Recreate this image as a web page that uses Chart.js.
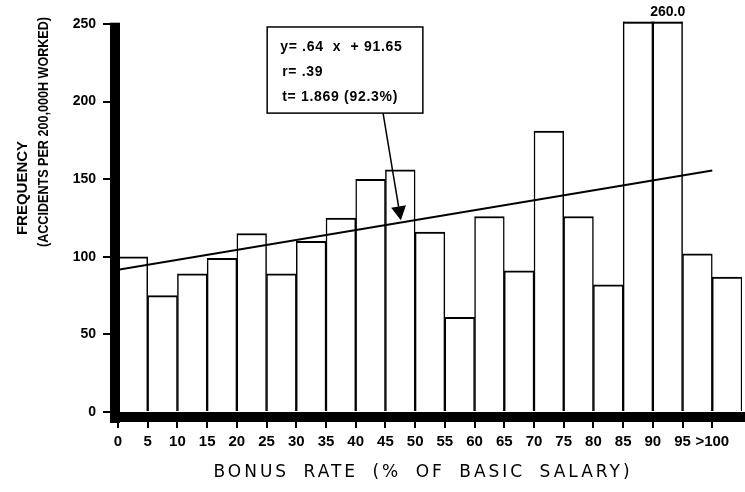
<!DOCTYPE html>
<html>
<head>
<meta charset="utf-8">
<script src="https://cdn.jsdelivr.net/npm/chart.js@4.4.1/dist/chart.umd.min.js"></script>
<style>
  html, body { margin: 0; padding: 0; background: #fff; }
  #wrap { width: 745px; height: 492px; }
</style>
</head>
<body>
<div id="wrap"><canvas id="chart" width="745" height="492"></canvas></div>
<script>
// Lower bound of each 5-point bonus-rate class (the last class is open-ended, >100)
const binStarts = [0, 5, 10, 15, 20, 25, 30, 35, 40, 45, 50, 55, 60, 65, 70, 75, 80, 85, 90, 95, 100];
const binWidth = 5;

// Accident frequency per 200,000 hours worked, one value per class
const accidentRates = [100, 75, 89, 99, 115, 89, 110, 125, 150, 156, 116, 61, 126, 91, 181, 126, 82, 255, 260, 102, 87];

// Class whose bar runs off the top of the scale and carries its value as a label
const labelledBins = [90];

// Axis tick labels
const xTickLabels = ['0', '5', '10', '15', '20', '25', '30', '35', '40', '45', '50',
                     '55', '60', '65', '70', '75', '80', '85', '90', '95', '>100'];
const yTickValues = [0, 50, 100, 150, 200, 250];

// Least-squares fit reported in the box
const fitSlope = 0.64;
const fitIntercept = 91.65;
const fitRange = [0, 100];
const fitStats = ['r= .39', 't= 1.869 (92.3%)'];

const fmtCoef = v => String(v).replace(/^0\./, '.');

const barPoints = binStarts.map((s, i) => ({ x: s + binWidth / 2, y: accidentRates[i] }));
const fitPoints = fitRange.map(x => ({ x, y: fitIntercept + fitSlope * x }));

const FONT = 'Liberation Sans, Arial, sans-serif';

// Heavy axis bands, clipped bar caps, value label, fit box and axis titles
const decorations = {
  id: 'decorations',
  afterDraw(chart, args, opts) {
    const { ctx, chartArea: ca, scales: { x, y } } = chart;
    ctx.save();

    // clipped bars: close their tops along the plot ceiling, label the flagged one
    const meta = chart.getDatasetMeta(1);
    meta.data.forEach((el, i) => {
      const v = accidentRates[i];
      if (v > y.max) {
        ctx.strokeStyle = '#000';
        ctx.lineWidth = 2;
        ctx.beginPath();
        ctx.moveTo(el.x - el.width / 2, ca.top + 1);
        ctx.lineTo(el.x + el.width / 2, ca.top + 1);
        ctx.stroke();
      }
      if (labelledBins.includes(binStarts[i])) {
        ctx.fillStyle = '#000';
        ctx.font = 'bold 14px ' + FONT;
        ctx.textAlign = 'center';
        ctx.textBaseline = 'middle';
        ctx.fillText(v.toFixed(1), el.x, ca.top - 10);
      }
    });

    // thick axis bands
    ctx.fillStyle = '#000';
    ctx.fillRect(ca.left - 8, ca.top + 1, 10, ca.bottom - ca.top + 10);
    ctx.fillRect(ca.left - 8, ca.bottom, chart.width - (ca.left - 8), 10);

    // regression box
    const b = opts.box;
    const bx0 = x.getPixelForValue(b.xMin), bx1 = x.getPixelForValue(b.xMax);
    const by0 = y.getPixelForValue(b.yMax), by1 = y.getPixelForValue(b.yMin);
    ctx.fillStyle = '#fff';
    ctx.fillRect(bx0, by0, bx1 - bx0, by1 - by0);
    ctx.strokeStyle = '#000';
    ctx.lineWidth = 1.5;
    ctx.strokeRect(bx0, by0, bx1 - bx0, by1 - by0);
    ctx.fillStyle = '#000';
    ctx.font = 'bold 14px ' + FONT;
    ctx.letterSpacing = '0.7px';
    ctx.textAlign = 'left';
    ctx.textBaseline = 'middle';
    opts.lines.forEach((t, i) => {
      ctx.fillText(t, bx0 + 13 + (i ? 2 : 0), by0 + 20 + i * 25);
    });
    ctx.letterSpacing = '0px';

    // arrow from the box to the fitted line
    const ax0 = x.getPixelForValue(opts.arrowFrom.x), ay0 = y.getPixelForValue(opts.arrowFrom.y);
    const ax1 = x.getPixelForValue(opts.arrowTo.x), ay1 = y.getPixelForValue(opts.arrowTo.y);
    const ang = Math.atan2(ay1 - ay0, ax1 - ax0);
    const headLen = 14, headHalf = 7.5;
    const hx = ax1 - headLen * Math.cos(ang), hy = ay1 - headLen * Math.sin(ang);
    ctx.lineWidth = 1.5;
    ctx.beginPath();
    ctx.moveTo(ax0, ay0);
    ctx.lineTo(hx, hy);
    ctx.stroke();
    ctx.beginPath();
    ctx.moveTo(ax1, ay1);
    ctx.lineTo(hx + headHalf * Math.sin(ang), hy - headHalf * Math.cos(ang));
    ctx.lineTo(hx - headHalf * Math.sin(ang), hy + headHalf * Math.cos(ang));
    ctx.closePath();
    ctx.fill();

    // x-axis title
    ctx.font = '17px DejaVu Sans, sans-serif';
    ctx.letterSpacing = '3px';
    ctx.wordSpacing = '6px';
    ctx.textAlign = 'center';
    ctx.textBaseline = 'middle';
    ctx.fillText('BONUS RATE (% OF BASIC SALARY)', 423, 473);
    ctx.letterSpacing = '0px';
    ctx.wordSpacing = '0px';

    // y-axis title, two rotated lines
    ctx.font = 'bold 15px ' + FONT;
    ctx.save();
    ctx.translate(23, 188);
    ctx.rotate(-Math.PI / 2);
    ctx.fillText('FREQUENCY', 0, 0);
    ctx.restore();
    ctx.save();
    ctx.translate(44, 132);
    ctx.rotate(-Math.PI / 2);
    ctx.fillText('(ACCIDENTS PER 200,000H WORKED)', 0, 0, 230);
    ctx.restore();

    ctx.restore();
  }
};

new Chart(document.getElementById('chart'), {
  type: 'bar',
  data: {
    datasets: [
      {
        type: 'line',
        data: fitPoints,
        borderColor: '#000',
        borderWidth: 2,
        pointRadius: 0,
        fill: false,
        order: 1
      },
      {
        type: 'bar',
        data: barPoints,
        backgroundColor: '#fff',
        borderColor: '#000',
        borderWidth: { top: 2, left: 1.5, right: 1.5, bottom: 0 },
        borderSkipped: 'bottom',
        barPercentage: 1,
        categoryPercentage: 1,
        clip: 0,
        order: 2
      }
    ]
  },
  options: {
    responsive: false,
    animation: false,
    devicePixelRatio: 1,
    layout: { padding: { top: 21.7, right: 3, left: 0, bottom: 0 } },
    plugins: {
      legend: { display: false },
      tooltip: { enabled: false },
      decorations: {
        lines: [`y= ${fmtCoef(fitSlope)}  x  + ${fitIntercept}`, ...fitStats],
        box: { xMin: 25.1, xMax: 51.3, yMin: 192.6, yMax: 248.1 },
        arrowFrom: { x: 44.6, y: 192.6 },
        arrowTo: { x: 47.6, y: 123.5 }
      }
    },
    scales: {
      x: {
        type: 'linear',
        min: 0,
        max: 105,
        offset: false,
        afterFit: s => { s.height = 80; },
        afterBuildTicks: s => { s.ticks = s.ticks.filter(t => t.value <= binStarts[binStarts.length - 1]); },
        border: { display: false },
        grid: { offset: false, drawOnChartArea: false, drawTicks: true, tickLength: 16, color: '#000', lineWidth: 2 },
        ticks: {
          stepSize: binWidth,
          autoSkip: false,
          maxRotation: 0,
          padding: 5,
          color: '#000',
          font: { family: FONT, size: 15, weight: 'bold' },
          callback: v => xTickLabels[binStarts.indexOf(v)]
        }
      },
      y: {
        type: 'linear',
        min: 0,
        max: 251.5,
        afterFit: s => { s.width = 118; },
        afterBuildTicks: s => { s.ticks = yTickValues.map(v => ({ value: v })); },
        border: { display: false },
        grid: { drawOnChartArea: false, drawTicks: true, tickLength: 15, color: '#000', lineWidth: 2 },
        ticks: {
          padding: 7,
          color: '#000',
          font: { family: FONT, size: 14, weight: 'bold' }
        }
      }
    }
  },
  plugins: [decorations]
});
</script>
</body>
</html>
